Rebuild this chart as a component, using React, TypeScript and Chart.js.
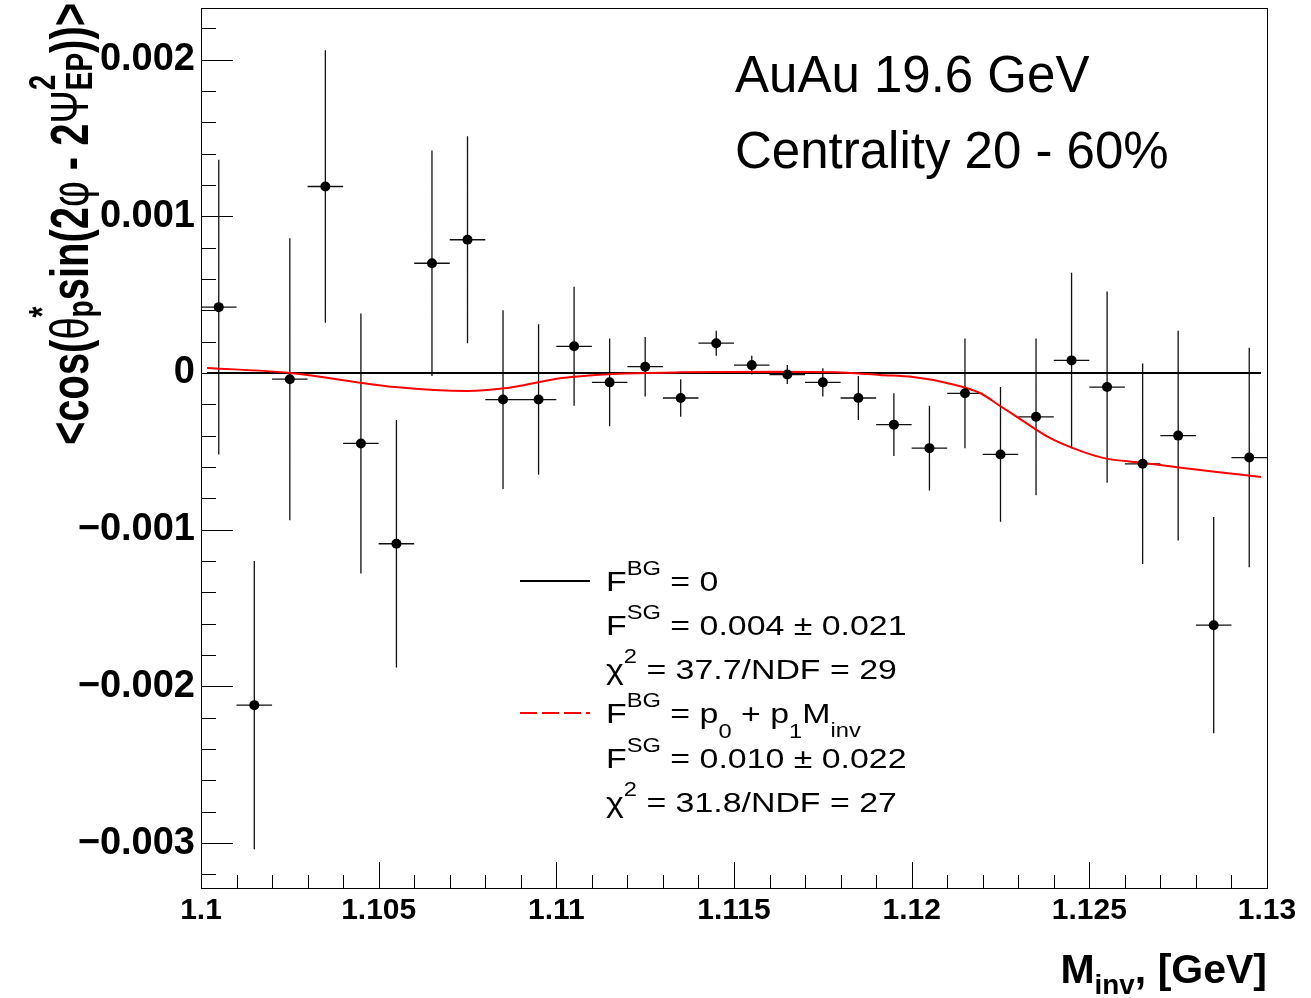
import React, { useEffect, useRef } from "react";
import { Chart, registerables } from "chart.js";

Chart.register(...registerables);

// ---------------- data ----------------
const binCenters = [
  1.1005, 1.1015, 1.1025, 1.1035, 1.1045, 1.1055, 1.1065, 1.1075, 1.1085, 1.1095,
  1.1105, 1.1115, 1.1125, 1.1135, 1.1145, 1.1155, 1.1165, 1.1175, 1.1185, 1.1195,
  1.1205, 1.1215, 1.1225, 1.1235, 1.1245, 1.1255, 1.1265, 1.1275, 1.1285, 1.1295,
];
const values = [
  0.00042, -0.00212, -0.00004, 0.00119, -0.00045, -0.00109, 0.0007, 0.00085, -0.00017, -0.00017,
  0.00017, -0.00006, 0.00004, -0.00016, 0.00019, 0.00005, -0.00001, -0.00006, -0.00016, -0.00033,
  -0.00048, -0.00013, -0.00052, -0.00028, 0.00008, -0.00009, -0.00058, -0.0004, -0.00161, -0.00054,
];
const errors = [
  0.00094, 0.00092, 0.0009, 0.00087, 0.00083, 0.00079, 0.00072, 0.00066, 0.00057, 0.00048,
  0.00038, 0.00028, 0.00019, 0.00012, 0.00008, 0.00006, 0.00006, 0.00009, 0.00014, 0.0002,
  0.00027, 0.00035, 0.00043, 0.0005, 0.00056, 0.00061, 0.00064, 0.00067, 0.00069, 0.0007,
];
const binHalfWidth = 0.0005;

const fitZeroX = [1.10017, 1.12983];
const fitZeroY = [0, 0];

const fitLinX = [
  1.10017, 1.1025, 1.10546, 1.10751, 1.10847, 1.11016, 1.11109, 1.11159, 1.11348, 1.11629,
  1.11818, 1.11911, 1.12004, 1.12099, 1.12192, 1.12249, 1.12296, 1.12389, 1.12454, 1.12538,
  1.12651, 1.12764, 1.12859, 1.12983,
];
const fitLinY = [
  0.000032, 0.0, -0.00009, -0.000115, -0.0001, -0.000032, -0.000013, -0.000006, 0.000004, 0.000008,
  0.000002, -0.000013, -0.000026, -0.000064, -0.000128, -0.000211, -0.00028, -0.000415, -0.00048, -0.000542,
  -0.000574, -0.000606, -0.000632, -0.000664,
];

const xMin = 1.1;
const xMax = 1.13;
const yMin = -0.003287;
const yMax = 0.002329;

const xTicks = [1.1, 1.105, 1.11, 1.115, 1.12, 1.125, 1.13];
const xTickLabels = ["1.1", "1.105", "1.11", "1.115", "1.12", "1.125", "1.13"];
const yTicks = [-0.003, -0.002, -0.001, 0, 0.001, 0.002];
const yTickLabels = ["\u22120.003", "\u22120.002", "\u22120.001", "0", "0.001", "0.002"];
const xMinorStep = 0.001;
const yMinorStep = 0.0002;

const infoLines = ["AuAu 19.6 GeV", "Centrality 20 - 60%"];

const FAM = "'Liberation Sans', Arial, Helvetica, sans-serif";

// ---------------- rich text ----------------
type Piece = { t: string; s?: number; dy?: number; w?: string; stack?: boolean };

function drawRich(
  ctx: CanvasRenderingContext2D,
  pieces: Piece[],
  F: number,
  x: number,
  y: number,
  draw: boolean
): number {
  let cx = 0;
  const put = (p: Piece, at: number) => {
    ctx.font = `${p.w || "normal"} ${F * (p.s || 1)}px ${FAM}`;
    const w = ctx.measureText(p.t).width;
    if (draw) ctx.fillText(p.t, x + at, y + F * (p.dy || 0));
    return w;
  };
  let i = 0;
  while (i < pieces.length) {
    const p = pieces[i];
    if (p.stack && i + 1 < pieces.length) {
      const w1 = put(p, cx);
      const w2 = put(pieces[i + 1], cx);
      cx += Math.max(w1, w2);
      i += 2;
    } else {
      cx += put(p, cx);
      i += 1;
    }
  }
  return cx;
}

const SUP = 0.7;
const legendRows: Piece[][] = [
  [{ t: "F" }, { t: "BG", s: SUP, dy: -0.57 }, { t: " = 0" }],
  [{ t: "F" }, { t: "SG", s: SUP, dy: -0.57 }, { t: " = 0.004 \u00b1 0.021" }],
  [{ t: "\u03c7" }, { t: "2", s: SUP, dy: -0.57 }, { t: " = 37.7/NDF = 29" }],
  [
    { t: "F" }, { t: "BG", s: SUP, dy: -0.57 }, { t: " = p" }, { t: "0", s: SUP, dy: 0.55 },
    { t: " + p" }, { t: "1", s: SUP, dy: 0.55 }, { t: "M" }, { t: "inv", s: SUP, dy: 0.5 },
  ],
  [{ t: "F" }, { t: "SG", s: SUP, dy: -0.57 }, { t: " = 0.010 \u00b1 0.022" }],
  [{ t: "\u03c7" }, { t: "2", s: SUP, dy: -0.57 }, { t: " = 31.8/NDF = 27" }],
];

const yTitle: Piece[] = [
  { t: "<cos(", w: "bold" },
  { t: "\u03b8", w: "normal" },
  { t: "*", s: 0.7, dy: -0.62, w: "bold", stack: true },
  { t: "p", s: 0.7, dy: 0.1, w: "bold" },
  { t: "sin(2", w: "bold" },
  { t: "\u03c6", w: "normal" },
  { t: " - 2", w: "bold" },
  { t: "\u03a8", w: "normal" },
  { t: "2", s: 0.7, dy: -0.62, w: "bold", stack: true },
  { t: "EP", s: 0.7, dy: 0.08, w: "bold" },
  { t: "))>", w: "bold" },
];

const xTitle: Piece[] = [
  { t: "M", w: "bold" },
  { t: "inv", s: 0.68, dy: 0.27, w: "bold" },
  { t: ", [GeV]", w: "bold" },
];

// ---------------- plugins ----------------
const framePlugin = {
  id: "rootFrame",
  beforeDatasetsDraw(chart: any) {
    const { ctx, chartArea: a, scales } = chart;
    const xs = scales.x;
    const ys = scales.y;
    ctx.save();
    ctx.strokeStyle = "#000";
    ctx.lineWidth = 1;
    ctx.strokeRect(Math.round(a.left) + 0.5, Math.round(a.top) + 0.5, Math.round(a.right - a.left), Math.round(a.bottom - a.top));
    ctx.beginPath();
    const nx = Math.round((xMax - xMin) / xMinorStep);
    for (let i = 0; i <= nx; i++) {
      const v = xMin + i * xMinorStep;
      const px = Math.round(xs.getPixelForValue(v)) + 0.5;
      const len = i % 5 === 0 ? 26 : 13;
      ctx.moveTo(px, a.bottom);
      ctx.lineTo(px, a.bottom - len);
    }
    const iy0 = Math.ceil(yMin / yMinorStep);
    const iy1 = Math.floor(yMax / yMinorStep);
    for (let i = iy0; i <= iy1; i++) {
      const v = i * yMinorStep;
      const py = Math.round(ys.getPixelForValue(v)) + 0.5;
      const len = i % 5 === 0 ? 32 : 15;
      ctx.moveTo(a.left, py);
      ctx.lineTo(a.left + len, py);
    }
    ctx.stroke();

    // error bars
    ctx.beginPath();
    ctx.strokeStyle = "#111";
    ctx.lineWidth = 1.3;
    for (let i = 0; i < binCenters.length; i++) {
      const cx = xs.getPixelForValue(binCenters[i]);
      const cy = ys.getPixelForValue(values[i]);
      const xl = xs.getPixelForValue(binCenters[i] - binHalfWidth);
      const xr = xs.getPixelForValue(binCenters[i] + binHalfWidth);
      const yt = ys.getPixelForValue(values[i] + errors[i]);
      const yb = ys.getPixelForValue(values[i] - errors[i]);
      ctx.moveTo(xl, cy);
      ctx.lineTo(xr, cy);
      ctx.moveTo(cx, yt);
      ctx.lineTo(cx, yb);
    }
    ctx.stroke();
    ctx.restore();
  },
};

const textPlugin = {
  id: "rootText",
  afterDraw(chart: any) {
    const { ctx, chartArea: a } = chart;
    ctx.save();
    ctx.fillStyle = "#000";
    ctx.textBaseline = "alphabetic";
    ctx.textAlign = "left";

    // info text
    ctx.font = `normal 51px ${FAM}`;
    ctx.fillText(infoLines[0], 735, 92);
    ctx.fillText(infoLines[1], 735, 168);

    // legend
    const LF = 28;
    const baselines = [591, 635, 679, 723, 768, 812];
    legendRows.forEach((row, k) => {
      ctx.save();
      ctx.translate(606, baselines[k]);
      ctx.scale(1.21, 1);
      drawRich(ctx, row, LF, 0, 0, true);
      ctx.restore();
    });
    ctx.lineWidth = 2;
    ctx.strokeStyle = "#000";
    ctx.beginPath();
    ctx.moveTo(520, 581);
    ctx.lineTo(590, 581);
    ctx.stroke();
    ctx.strokeStyle = "#ff0000";
    ctx.setLineDash([17, 5]);
    ctx.beginPath();
    ctx.moveTo(520, 713);
    ctx.lineTo(590, 713);
    ctx.stroke();
    ctx.setLineDash([]);

    // x title
    const XF = 41;
    const xw = drawRich(ctx, xTitle, XF, 0, 0, false);
    drawRich(ctx, xTitle, XF, a.right - xw, 983, true);

    // y title
    const YF = 54;
    ctx.save();
    ctx.translate(88, 445);
    ctx.rotate(-Math.PI / 2);
    const yw = drawRich(ctx, yTitle, YF, 0, 0, false);
    ctx.scale(442 / yw, 1);
    drawRich(ctx, yTitle, YF, 0, 0, true);
    ctx.restore();

    ctx.restore();
  },
};

// ---------------- component ----------------
export default function App() {
  const ref = useRef<HTMLCanvasElement | null>(null);

  useEffect(() => {
    document.body.style.margin = "0";
    const canvas = ref.current;
    if (!canvas) return;
    const chart = new Chart(canvas, {
      type: "scatter",
      data: {
        datasets: [
          {
            label: "data",
            data: binCenters.map((x, i) => ({ x, y: values[i] })),
            pointRadius: 5,
            pointBackgroundColor: "#000",
            pointBorderWidth: 0,
            showLine: false,
            order: 0,
          },
          {
            label: "fit linear BG",
            data: fitLinX.map((x, i) => ({ x, y: fitLinY[i] })),
            showLine: true,
            borderColor: "#ff0000",
            borderWidth: 2,
            pointRadius: 0,
            cubicInterpolationMode: "monotone",
            order: 1,
          },
          {
            label: "fit zero BG",
            data: fitZeroX.map((x, i) => ({ x, y: fitZeroY[i] })),
            showLine: true,
            borderColor: "#000",
            borderWidth: 2,
            pointRadius: 0,
            order: 2,
          },
        ],
      },
      options: {
        responsive: false,
        animation: false,
        devicePixelRatio: 1,
        layout: { padding: { left: 0, right: 44, top: 8, bottom: 0 } },
        plugins: { legend: { display: false }, tooltip: { enabled: false } },
        scales: {
          x: {
            type: "linear",
            min: xMin,
            max: xMax,
            grid: { display: false, drawTicks: false },
            border: { display: false },
            afterBuildTicks: (s: any) => {
              s.ticks = xTicks.map((v) => ({ value: v }));
            },
            afterFit: (s: any) => {
              s.height = 110;
              s.paddingLeft = 0;
              s.paddingRight = 0;
              s.paddingTop = 0;
              s.paddingBottom = 0;
            },
            ticks: {
              autoSkip: false,
              maxRotation: 0,
              padding: 5,
              color: "#000",
              font: { family: FAM, weight: "bold", size: 30 },
              callback: (v: any) => {
                const k = xTicks.findIndex((t) => Math.abs(t - Number(v)) < 1e-9);
                return k >= 0 ? xTickLabels[k] : "";
              },
            },
          },
          y: {
            type: "linear",
            min: yMin,
            max: yMax,
            grid: { display: false, drawTicks: false },
            border: { display: false },
            afterBuildTicks: (s: any) => {
              s.ticks = yTicks.map((v) => ({ value: v }));
            },
            afterFit: (s: any) => {
              s.width = 201;
              s.paddingLeft = 0;
              s.paddingRight = 0;
              s.paddingTop = 0;
              s.paddingBottom = 0;
            },
            ticks: {
              autoSkip: false,
              padding: 6,
              color: "#000",
              font: { family: FAM, weight: "bold", size: 38 },
              callback: (v: any) => {
                const k = yTicks.findIndex((t) => Math.abs(t - Number(v)) < 1e-12);
                return k >= 0 ? yTickLabels[k] : "";
              },
            },
          },
        },
      },
      plugins: [framePlugin, textPlugin],
    } as any);
    return () => chart.destroy();
  }, []);

  return (
    <div style={{ width: 1311, height: 998, background: "#fff" }}>
      <canvas ref={ref} width={1311} height={998} style={{ display: "block", width: 1311, height: 998 }} />
    </div>
  );
}
